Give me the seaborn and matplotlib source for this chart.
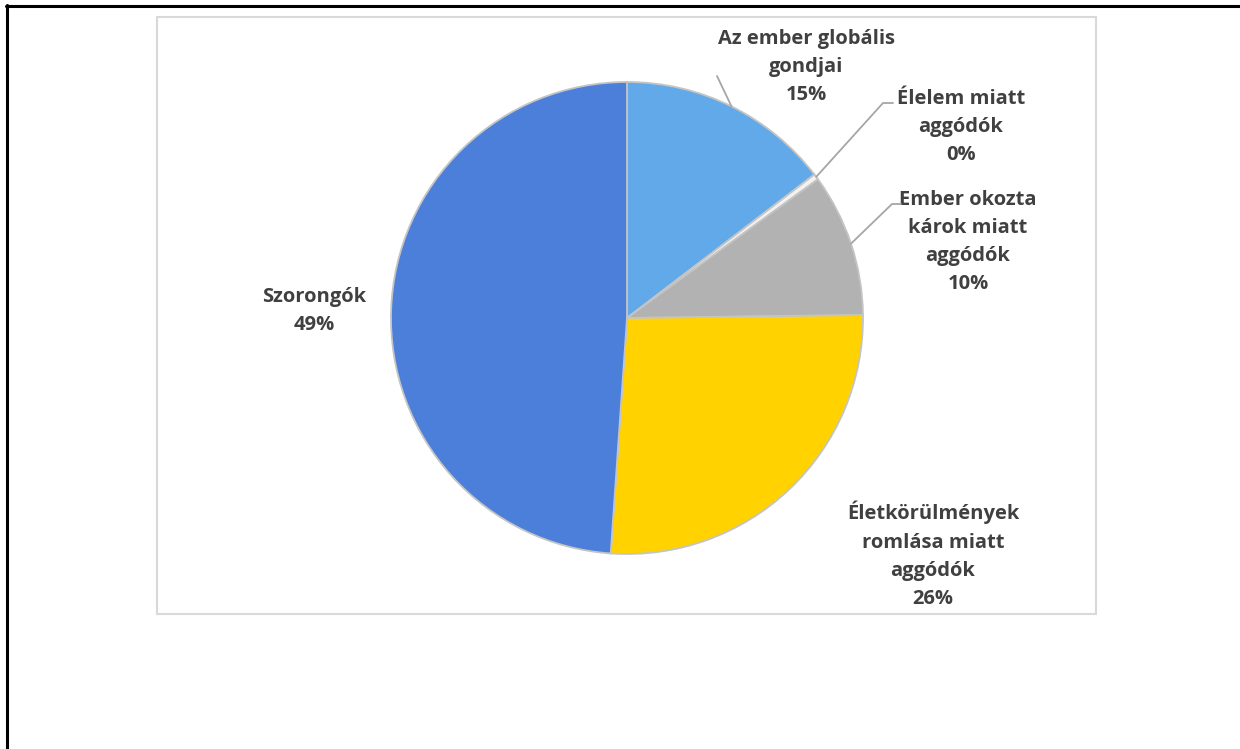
import matplotlib
matplotlib.use("Agg")
import matplotlib.pyplot as plt
from matplotlib.patches import Rectangle
from matplotlib.lines import Line2D
import numpy as np
import seaborn as sns

# Survey groups and their shares (%)
categories = [
    "Az ember globális\ngondjai",
    "Élelem miatt\naggódók",
    "Ember okozta\nkárok miatt\naggódók",
    "Életkörülmények\nromlása miatt\naggódók",
    "Szorongók",
]
shares = [14.6, 0.4, 9.8, 26.3, 48.9]

colors = sns.color_palette(["#62a9ea", "#f2f2f2", "#b2b2b2", "#ffd200", "#4b7fda"])

sns.set_theme(style="white")
plt.rcParams["font.family"] = ["Open Sans", "DejaVu Sans"]

W, H = 1240, 749
fig = plt.figure(figsize=(W / 100, H / 100), dpi=100)
fig.patch.set_facecolor("white")

# pie centre and radius in pixels
cx, cy, R = 627, 318, 236
ax = fig.add_axes([(cx - R) / W, (H - cy - R) / H, 2 * R / W, 2 * R / H])

wedges, _ = ax.pie(
    shares,
    colors=colors,
    startangle=90,
    counterclock=False,
    radius=1.0,
    wedgeprops=dict(edgecolor="#c4c4c4", linewidth=1.3),
)
ax.set_xlim(-1, 1)
ax.set_ylim(-1, 1)
ax.set_aspect("equal")
ax.axis("off")


def px(x, y):
    """pixel position -> pie data coordinates"""
    return (x - cx) / R, (cy - y) / R


text_color = "#404040"
label_pos = [(806, 67), (961, 127), (968, 242), (933, 555), (314, 311)]

for cat, val, (lx, ly) in zip(categories, shares, label_pos):
    dx, dy = px(lx, ly)
    ax.text(dx, dy, f"{cat}\n{val:.0f}%", ha="center", va="center",
            fontsize=14.5, fontweight="bold", color=text_color,
            linespacing=1.55, clip_on=False)

# leader lines from the middle of the slice edge to the label
leaders = {0: [(717, 76)], 1: [(883, 103), (893, 103)], 2: [(892, 204), (901, 204)]}
for i, pts in leaders.items():
    w = wedges[i]
    mid = np.deg2rad((w.theta1 + w.theta2) / 2)
    xs = [np.cos(mid)] + [px(*p)[0] for p in pts]
    ys = [np.sin(mid)] + [px(*p)[1] for p in pts]
    ax.plot(xs, ys, color="#a6a6a6", lw=1.3, clip_on=False, zorder=3)

# chart area frame
fig.patches.append(Rectangle((157 / W, 1 - 614 / H), (1096 - 157) / W, (614 - 17) / H,
                             transform=fig.transFigure, fill=False,
                             edgecolor="#d9d9d9", linewidth=1.5))
# outer border (top and left)
fig.lines.append(Line2D([6 / W, 1], [1 - 5.5 / H, 1 - 5.5 / H], transform=fig.transFigure,
                        color="black", linewidth=2.2))
fig.lines.append(Line2D([6.5 / W, 6.5 / W], [0, 1 - 4.5 / H], transform=fig.transFigure,
                        color="black", linewidth=2.2))

fig.savefig("out.png", dpi=100)
